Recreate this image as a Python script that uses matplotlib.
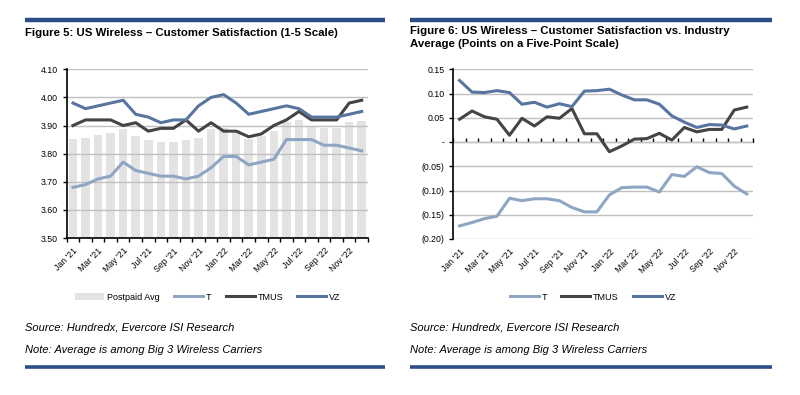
import matplotlib
matplotlib.use("Agg")
import matplotlib.pyplot as plt
import numpy as np
from matplotlib.ticker import FuncFormatter, FixedLocator

plt.rcParams['font.family'] = ['Liberation Sans', 'DejaVu Sans']

months = ["Jan '21", "Feb '21", "Mar '21", "Apr '21", "May '21", "Jun '21",
          "Jul '21", "Aug '21", "Sep '21", "Oct '21", "Nov '21", "Dec '21",
          "Jan '22", "Feb '22", "Mar '22", "Apr '22", "May '22", "Jun '22",
          "Jul '22", "Aug '22", "Sep '22", "Oct '22", "Nov '22", "Dec '22"]

# Figure 5 values (1-5 scale)
postpaid_avg = [3.853, 3.857, 3.867, 3.873, 3.887, 3.863, 3.847, 3.840, 3.843, 3.850, 3.857, 3.887,
                3.893, 3.883, 3.853, 3.863, 3.880, 3.913, 3.920, 3.900, 3.893, 3.893, 3.913, 3.917]
t_sat = [3.68, 3.69, 3.71, 3.72, 3.77, 3.74, 3.73, 3.72, 3.72, 3.71, 3.72, 3.75,
         3.79, 3.79, 3.76, 3.77, 3.78, 3.85, 3.85, 3.85, 3.83, 3.83, 3.82, 3.81]
tmus_sat = [3.90, 3.92, 3.92, 3.92, 3.90, 3.91, 3.88, 3.89, 3.89, 3.92, 3.88, 3.91,
            3.88, 3.88, 3.86, 3.87, 3.90, 3.92, 3.95, 3.92, 3.92, 3.92, 3.98, 3.99]
vz_sat = [3.98, 3.96, 3.97, 3.98, 3.99, 3.94, 3.93, 3.91, 3.92, 3.92, 3.97, 4.00,
          4.01, 3.98, 3.94, 3.95, 3.96, 3.97, 3.96, 3.93, 3.93, 3.93, 3.94, 3.95]

# Figure 6 values (vs. industry average)
t_diff = [-0.173, -0.166, -0.158, -0.153, -0.116, -0.121, -0.117, -0.117, -0.121, -0.135, -0.144, -0.144,
          -0.109, -0.094, -0.093, -0.093, -0.103, -0.067, -0.071, -0.051, -0.063, -0.065, -0.091, -0.107]
tmus_diff = [0.047, 0.064, 0.052, 0.047, 0.014, 0.049, 0.033, 0.052, 0.049, 0.069, 0.017, 0.017,
             -0.020, -0.008, 0.006, 0.007, 0.018, 0.004, 0.030, 0.021, 0.026, 0.026, 0.066, 0.072]
vz_diff = [0.127, 0.103, 0.102, 0.106, 0.102, 0.078, 0.082, 0.072, 0.079, 0.073, 0.105, 0.106,
           0.109, 0.097, 0.087, 0.087, 0.078, 0.054, 0.041, 0.030, 0.036, 0.035, 0.027, 0.033]

C_T = '#8EA5C3'
C_TMUS = '#444444'
C_VZ = '#5875A0'
C_BAR = '#E3E3E3'
C_GRID = '#C0C0C0'
C_NAVY = '#2B4E86'

W, H = 800, 395
fig = plt.figure(figsize=(8.0, 3.95), dpi=100)

def fx(px):
    return px / W

def fy(py):
    return 1 - py / H

# decorative header / footer rules
for (x0, x1) in [(25, 385), (410, 772)]:
    fig.add_artist(plt.Line2D([fx(x0), fx(x1)], [fy(20), fy(20)], color=C_NAVY, lw=3.2,
                              transform=fig.transFigure, solid_capstyle='butt'))
    fig.add_artist(plt.Line2D([fx(x0), fx(x1)], [fy(367), fy(367)], color=C_NAVY, lw=2.6,
                              transform=fig.transFigure, solid_capstyle='butt'))

fig.text(fx(25), fy(33), "Figure 5: US Wireless \u2013 Customer Satisfaction (1-5 Scale)",
         fontsize=8.2, fontweight='bold', va='center', ha='left')
fig.text(fx(410), fy(31), "Figure 6: US Wireless \u2013 Customer Satisfaction vs. Industry",
         fontsize=8.2, fontweight='bold', va='center', ha='left')
fig.text(fx(410), fy(44), "Average (Points on a Five-Point Scale)",
         fontsize=8.2, fontweight='bold', va='center', ha='left')

for x0 in (25, 410):
    fig.text(fx(x0), fy(328), "Source: Hundredx, Evercore ISI Research", fontsize=8,
             style='italic', va='center', ha='left')
    fig.text(fx(x0), fy(350), "Note: Average is among Big 3 Wireless Carriers", fontsize=8,
             style='italic', va='center', ha='left')

x = np.arange(len(months))
tick_font = 6.3

# ---------------- Left chart ----------------
ax1 = fig.add_axes([fx(66.7), fy(238), fx(368 - 66.7), (238 - 69.3) / H])
bars = ax1.bar(x, postpaid_avg, width=0.68, color=C_BAR, zorder=0.4, label='Postpaid Avg')
l1, = ax1.plot(x, t_sat, color=C_T, lw=2.2, zorder=3, label='T')
l2, = ax1.plot(x, tmus_sat, color=C_TMUS, lw=2.2, zorder=3, label='TMUS')
l3, = ax1.plot(x, vz_sat, color=C_VZ, lw=2.2, zorder=3, label='VZ')
ax1.set_ylim(3.50, 4.10)
ax1.set_xlim(-0.5, len(months) - 0.5)
ax1.set_yticks(np.arange(3.50, 4.101, 0.10))
ax1.yaxis.set_major_formatter(FuncFormatter(lambda v, p: f"{v:.2f}"))
ax1.yaxis.grid(True, color=C_GRID, lw=1.0)
ax1.set_axisbelow(True)
for s in ('top', 'right'):
    ax1.spines[s].set_visible(False)
for s in ('left', 'bottom'):
    ax1.spines[s].set_color('black')
    ax1.spines[s].set_linewidth(1.2)
ax1.set_xticks(x[::2])
ax1.set_xticklabels(months[::2], rotation=45, ha='right', rotation_mode='anchor', fontsize=tick_font)
ax1.tick_params(axis='x', which='major', length=0, pad=6)
ax1.xaxis.set_minor_locator(FixedLocator(np.arange(-0.5, len(months), 1.0)))
ax1.tick_params(axis='x', which='minor', length=3, width=1.0, color='black', direction='out')
ax1.tick_params(axis='y', length=3, width=1.0, labelsize=tick_font, direction='out')
fig.legend([bars, l1, l2, l3], ['Postpaid Avg', 'T', 'TMUS', 'VZ'], loc='center',
           bbox_to_anchor=(fx(208), fy(297)),
           ncol=4, frameon=False, fontsize=6.5, handlelength=3.2, handletextpad=0.3,
           columnspacing=1.6, handleheight=0.7)

# ---------------- Right chart ----------------
ax2 = fig.add_axes([fx(453.3), fy(239), fx(753 - 453.3), (239 - 69.3) / H])
ax2.plot(x, t_diff, color=C_T, lw=2.2, zorder=3, label='T')
ax2.plot(x, tmus_diff, color=C_TMUS, lw=2.2, zorder=3, label='TMUS')
ax2.plot(x, vz_diff, color=C_VZ, lw=2.2, zorder=3, label='VZ')
ax2.set_ylim(-0.20, 0.15)
ax2.set_xlim(-0.5, len(months) - 0.5)
ax2.set_yticks(np.round(np.arange(-0.20, 0.151, 0.05), 2))

def fmt_diff(v, p):
    if abs(v) < 1e-9:
        return "-"
    if v < 0:
        return f"({abs(v):.2f})"
    return f"{v:.2f}"

ax2.yaxis.set_major_formatter(FuncFormatter(fmt_diff))
ax2.yaxis.grid(True, color=C_GRID, lw=1.0)
ax2.set_axisbelow(True)
for s in ('top', 'right', 'bottom'):
    ax2.spines[s].set_visible(False)
ax2.spines['left'].set_color('black')
ax2.spines['left'].set_linewidth(1.2)
ax2.set_xticks(x[::2])
ax2.set_xticklabels(months[::2], rotation=45, ha='right', rotation_mode='anchor', fontsize=tick_font)
ax2.tick_params(axis='x', which='major', length=0, pad=6)
ax2.tick_params(axis='y', length=3, width=1.0, labelsize=tick_font, direction='out')
zero_frac = (0 - (-0.20)) / 0.35
sec = ax2.secondary_xaxis(zero_frac)
sec.spines['bottom'].set_color('black')
sec.spines['bottom'].set_linewidth(1.2)
sec.set_xticks(np.arange(-0.5, len(months), 1.0))
sec.set_xticklabels([])
sec.tick_params(axis='x', length=3, width=1.0, color='black', direction='out')
fig.legend(*ax2.get_legend_handles_labels(), loc='center', bbox_to_anchor=(fx(593), fy(297)),
           ncol=3, frameon=False, fontsize=6.5, handlelength=3.2, handletextpad=0.3,
           columnspacing=1.6)

fig.savefig('out.png', dpi=100)
